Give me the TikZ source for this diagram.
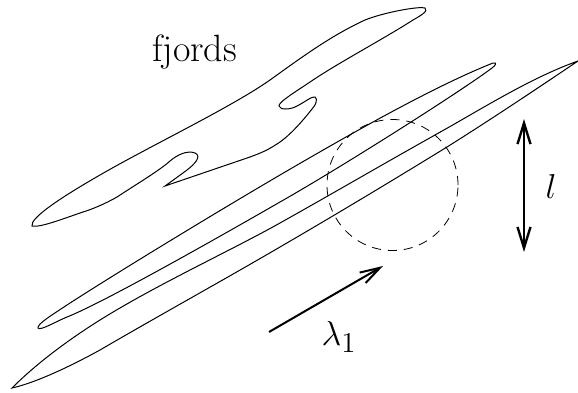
\documentclass[tikz,border=0pt]{standalone}
\usetikzlibrary{arrows.meta}
\begin{document}
\begin{tikzpicture}[
      x=0.5pt, y=-0.5pt,
      every node/.style={font=\fontsize{19}{23}\selectfont},
      fjord/.style={line width=0.5pt},
      ball/.style={line width=0.4pt, dash pattern=on 4.5pt off 3.5pt},
      scale arrow/.style={line width=1pt, -{Straight Barb[length=10pt,width=6pt]}},
      both arrow/.style={line width=1.2pt, {Straight Barb[length=10.5pt,width=6.5pt]}-{Straight Barb[length=10.5pt,width=6.5pt]}}
  ]
    \useasboundingbox (0,0) rectangle (578,392);
    \node (title) at (194.5,52) {fjords};
    \node (ell) at (551,186) {$l$};
    \node (lambda) at (339,337) {$\lambda_1$};

    % upper fjord
    \draw[fjord] (32,226) .. controls (30,218) and (60,198) .. (100,175)
      .. controls (150,146) and (230,108) .. (270,80)
      .. controls (298,60) and (330,36) .. (365,20)
      .. controls (385,12) and (420,6) .. (425,8)
      .. controls (429,11) and (420,16) .. (413,20)
      .. controls (385,38) and (340,62) .. (313,80)
      .. controls (300,89) and (278,102) .. (279,106)
      .. controls (280,110) and (290,110) .. (297,106)
      .. controls (305,102) and (312,96) .. (315,97)
      .. controls (318,99) and (316,105) .. (312,109)
      .. controls (305,118) and (290,136) .. (277,144)
      .. controls (265,152) and (255,155) .. (250,157)
      -- (165,186)
      .. controls (172,181) and (183,173) .. (187,170)
      .. controls (195,164) and (202,156) .. (195,153)
      .. controls (187,150) and (177,155) .. (170,161)
      .. controls (160,170) and (140,182) .. (117,197)
      .. controls (105,204) and (90,210) .. (83,212)
      .. controls (65,218) and (40,228) .. (32,226) -- cycle;
    % middle fjord
    \draw[fjord] (38,328) .. controls (37,324) and (52,315) .. (67,305)
      .. controls (110,277) and (210,216) .. (280,175)
      .. controls (340,140) and (430,88) .. (493,63)
      .. controls (498,62) and (495,66) .. (492,68)
      .. controls (460,92) and (340,168) .. (280,202)
      .. controls (200,248) and (100,304) .. (67,317)
      .. controls (55,322) and (40,331) .. (38,328) -- cycle;
    % lower fjord
    \draw[fjord] (12,388) .. controls (35,365) and (65,342) .. (100,320)
      .. controls (156,285) and (230,251) .. (280,223)
      .. controls (330,195) and (385,163) .. (435,135)
      .. controls (480,110) and (530,78) .. (578,61)
      .. controls (535,90) and (490,120) .. (447,147)
      .. controls (390,182) and (335,215) .. (280,247)
      .. controls (220,282) and (160,315) .. (100,350)
      .. controls (60,372) and (30,384) .. (12,388) -- cycle;

    \node[draw, circle, ball, minimum size=65.5pt, inner sep=0pt] (disc) at (392.5,185) {};

    \coordinate (ltop) at (524,119);
    \coordinate (lbot) at (524,252);
    \draw[both arrow] (ltop) -- (lbot);
    \coordinate (atail) at (269,332);
    \coordinate (ahead) at (383,266);
    \draw[scale arrow] (atail) -- (ahead);
  \end{tikzpicture}
\end{document}
